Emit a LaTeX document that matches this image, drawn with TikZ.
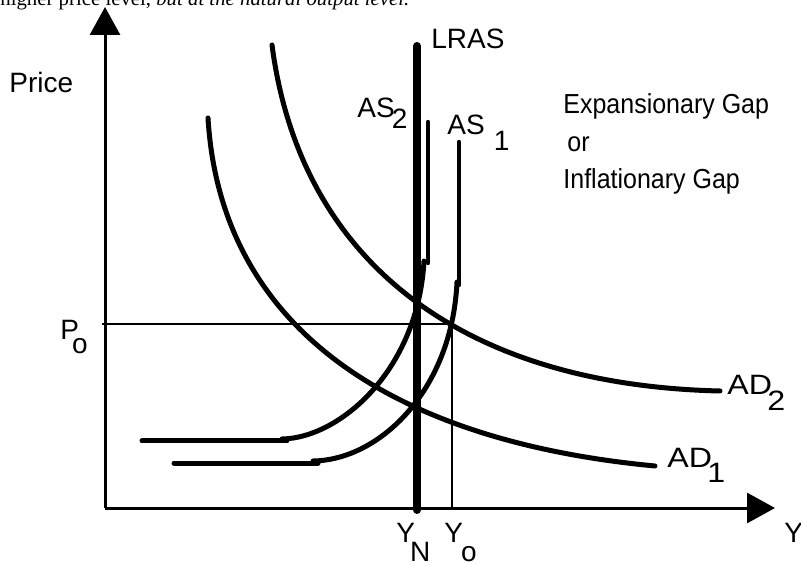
\documentclass[tikz,border=0pt]{standalone}
\usepackage{fontspec}
\setmainfont{Liberation Sans}
\newfontfamily\pageface{Liberation Serif}
\usetikzlibrary{arrows.meta}
% subscript set at full size, only lowered
\newcommand{\lowsub}[3]{\kern#1\raisebox{-#2}{#3}}

\begin{document}
\begin{tikzpicture}[x=0.5pt,y=-0.5pt,>={Triangle[length=14pt,width=15pt]},
	lbl/.style={font=\fontsize{14}{17}\selectfont,inner sep=0pt,anchor=base west},
	note/.style={lbl,font=\fontsize{12.5}{15}\selectfont,yscale=1.1},
	curve/.style={line width=2.5pt,line cap=round},
	thinline/.style={line width=1pt}]
	\useasboundingbox (0,0) rectangle (801,565);
	\clip (0,0) rectangle (801,565);

	% last line of the page text, cut by the top edge
	\node[anchor=base west,inner sep=0pt,font=\pageface\fontsize{10.4}{12}\selectfont] (pagetext) at (0,6) {higher price level, \textit{but at the natural output level.}};

	% axes
	\coordinate (origin) at (105,508);
	\draw[->,line width=1.5pt] (origin) -- (105,7);
	\draw[->,line width=1.5pt] (origin) -- (775,508);
	\node[lbl] (price) at (9,93) {Price};
	\node[lbl] (yaxis) at (784,542) {Y};

	% price level and output at the AD2/AS1 point
	\coordinate (eq) at (452,324);
	\draw[thinline] (102,324) -- (eq) -- (452,508);
	\node[lbl] (po) at (60,340) {P\lowsub{-0.25em}{0.5em}{o}};
	\node[lbl] (yn) at (396,542) {Y\lowsub{-0.18em}{0.7em}{N}};
	\node[lbl] (yo) at (444,542) {Y\lowsub{-0.07em}{0.7em}{o}};

	% long run supply
	\draw[line width=4pt,line cap=round] (417,46) -- (417,510);
	\node[lbl] (lras) at (431,49) {LRAS};

	% short run supply curves
	\draw[line width=2.2pt,line cap=round] (428,122) -- (428,263);
	\draw[curve] (142,441) -- (287,441);
	\draw[curve] (424,261) .. controls (418,370) and (340,438) .. (282,439);
	\node[lbl] (as2) at (357,118) {AS\lowsub{-0.1em}{0.36em}{2}};

	\draw[line width=2.2pt,line cap=round] (459,142) -- (459,285);
	\draw[curve] (174,463) -- (318,463);
	\draw[curve] (457,282) .. controls (452,390) and (380,460) .. (313,461);
	\node[lbl] (as1) at (447,135) {AS \lowsub{0.05em}{0.55em}{1}};

	% demand curves
	\draw[curve] (272,45) .. controls (300,260) and (460,385) .. (720,391);
	\node[lbl,xscale=1.15] (ad2) at (727,395) {AD\lowsub{-0.15em}{0.55em}{2}};
	\draw[curve] (208,118) .. controls (220,320) and (380,440) .. (655,466);
	\node[lbl,xscale=1.15] (ad1) at (667,467) {AD\lowsub{-0.15em}{0.57em}{1}};

	% gap note
	\node[note] (expgap) at (563,114) {Expansionary Gap};
	\node[note] (orword) at (567,152) {or};
	\node[note] (infgap) at (563,189) {Inflationary Gap};
\end{tikzpicture}
\end{document}
